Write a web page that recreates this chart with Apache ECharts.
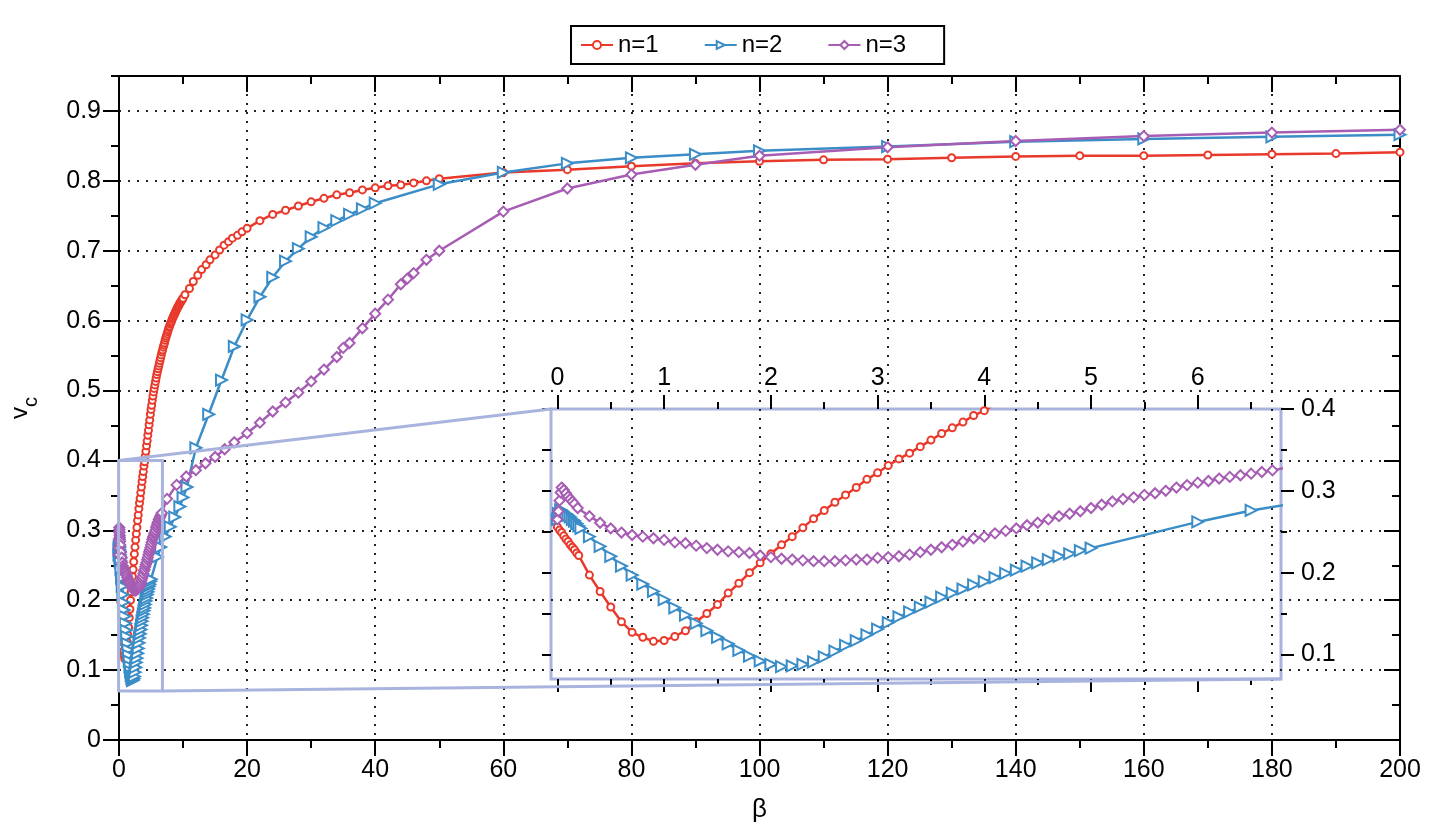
<!DOCTYPE html>
<html>
<head>
<meta charset="utf-8">
<script src="https://cdn.jsdelivr.net/npm/echarts@6/dist/echarts.min.js"></script>
<style>
  html, body { margin: 0; padding: 0; background: #fff; }
  #chart { width: 1438px; height: 836px; }
</style>
</head>
<body>
<div id="chart"></div>
<script>
(function () {
  'use strict';

  // 数据: [β, v_c]
  const n1 = [
    [0, 0.256], [0.02, 0.252], [0.04, 0.249], [0.06, 0.245], [0.08, 0.241], [0.1, 0.238], [0.12, 0.234], [0.14, 0.231],
    [0.16, 0.228], [0.18, 0.224], [0.2, 0.221], [0.3, 0.197], [0.4, 0.177], [0.5, 0.158], [0.6, 0.140], [0.7, 0.127],
    [0.8, 0.121], [0.9, 0.116], [1.0, 0.117], [1.1, 0.122], [1.2, 0.129], [1.3, 0.140], [1.4, 0.150], [1.5, 0.161],
    [1.6, 0.175], [1.7, 0.187], [1.8, 0.200], [1.9, 0.212], [2.0, 0.223], [2.1, 0.234], [2.2, 0.244], [2.3, 0.255],
    [2.4, 0.266], [2.5, 0.276], [2.6, 0.286], [2.7, 0.295], [2.8, 0.304], [2.9, 0.314], [3.0, 0.322], [3.1, 0.331],
    [3.2, 0.339], [3.3, 0.346], [3.4, 0.354], [3.5, 0.362], [3.6, 0.370], [3.7, 0.377], [3.8, 0.384], [3.9, 0.392],
    [4.0, 0.398], [4.1, 0.406], [4.2, 0.413], [4.3, 0.421], [4.4, 0.428], [4.5, 0.436], [4.6, 0.443], [4.7, 0.451],
    [4.8, 0.458], [4.9, 0.466], [5.0, 0.473], [5.1, 0.479], [5.2, 0.486], [5.3, 0.492], [5.4, 0.498], [5.5, 0.503],
    [5.6, 0.508], [5.7, 0.513], [5.8, 0.518], [5.9, 0.523], [6.0, 0.527], [6.1, 0.531], [6.2, 0.535], [6.3, 0.539],
    [6.4, 0.543], [6.5, 0.547], [6.6, 0.551], [6.7, 0.555], [6.8, 0.558], [6.9, 0.562], [7.0, 0.565], [7.1, 0.568],
    [7.2, 0.572], [7.3, 0.575], [7.4, 0.578], [7.5, 0.581], [7.6, 0.584], [7.7, 0.587], [7.8, 0.590], [7.9, 0.592],
    [8.0, 0.595], [8.1, 0.597], [8.2, 0.599], [8.3, 0.602], [8.4, 0.604], [8.5, 0.606], [8.6, 0.608], [8.7, 0.610],
    [8.8, 0.612], [8.9, 0.614], [9.0, 0.616], [9.1, 0.618], [9.2, 0.620], [9.3, 0.621], [9.4, 0.623], [9.5, 0.625],
    [9.6, 0.626], [9.7, 0.628], [9.8, 0.629], [9.9, 0.631], [10.0, 0.632],
    [10.3, 0.637], [11.0, 0.646], [11.6, 0.656], [12.3, 0.665], [12.9, 0.673], [13.6, 0.680], [14.2, 0.687],
    [15.0, 0.694], [15.7, 0.701], [16.4, 0.708], [17.1, 0.713], [17.7, 0.718], [18.5, 0.722], [19.2, 0.727], [20, 0.732],
    [22, 0.743], [24, 0.752], [26, 0.758], [28, 0.764], [30, 0.770], [32, 0.775], [34, 0.780], [36, 0.783],
    [38, 0.787], [40, 0.790], [42, 0.793], [44, 0.794], [46, 0.797], [48, 0.800], [50, 0.803], [60, 0.812],
    [70, 0.816], [80, 0.821], [90, 0.825], [100, 0.828], [110, 0.830], [120, 0.831], [130, 0.833], [140, 0.835],
    [150, 0.836], [160, 0.836], [170, 0.837], [180, 0.838], [190, 0.839], [200, 0.841]
  ];

  const n2 = [
    [0, 0.265], [0.01, 0.272], [0.03, 0.277], [0.05, 0.275], [0.08, 0.272], [0.1, 0.270], [0.12, 0.268], [0.14, 0.265],
    [0.16, 0.263], [0.18, 0.260], [0.2, 0.257], [0.22, 0.254], [0.3, 0.244], [0.4, 0.232], [0.5, 0.220], [0.6, 0.208],
    [0.7, 0.197], [0.8, 0.186], [0.9, 0.177], [1.0, 0.167], [1.1, 0.157], [1.2, 0.148], [1.3, 0.138], [1.4, 0.129],
    [1.5, 0.121], [1.6, 0.113], [1.7, 0.105], [1.8, 0.098], [1.9, 0.092], [2.0, 0.088], [2.1, 0.085], [2.2, 0.086],
    [2.3, 0.088], [2.4, 0.091], [2.5, 0.097], [2.6, 0.104], [2.7, 0.111], [2.8, 0.117], [2.9, 0.124], [3.0, 0.131],
    [3.1, 0.139], [3.2, 0.146], [3.3, 0.152], [3.4, 0.158], [3.5, 0.164], [3.6, 0.170], [3.7, 0.175], [3.8, 0.180],
    [3.9, 0.185], [4.0, 0.189], [4.1, 0.194], [4.2, 0.199], [4.3, 0.203], [4.4, 0.208], [4.5, 0.212], [4.6, 0.216],
    [4.7, 0.220], [4.8, 0.223], [4.9, 0.227], [5.0, 0.230], [6.0, 0.262], [6.5, 0.276], [7.2, 0.291], [8.0, 0.305],
    [8.7, 0.319], [9.5, 0.334], [10.0, 0.347], [10.6, 0.362], [12, 0.418], [14, 0.466], [16, 0.515], [18, 0.563],
    [20, 0.601], [22, 0.634], [24, 0.662], [26, 0.685], [28, 0.703], [30, 0.720], [32, 0.733], [34, 0.743],
    [36, 0.752], [38, 0.760], [40, 0.768], [50, 0.795], [60, 0.812], [70, 0.825], [80, 0.833], [90, 0.838],
    [100, 0.843], [120, 0.849], [140, 0.856], [160, 0.860], [180, 0.863], [200, 0.866]
  ];

  const n3 = [
    [0, 0.265], [0.01, 0.275], [0.02, 0.288], [0.03, 0.298], [0.04, 0.304], [0.06, 0.301], [0.08, 0.297], [0.1, 0.293],
    [0.12, 0.290], [0.14, 0.287], [0.16, 0.284], [0.19, 0.279], [0.3, 0.269], [0.4, 0.261], [0.5, 0.254], [0.6, 0.249],
    [0.7, 0.246], [0.8, 0.244], [0.9, 0.242], [1.0, 0.240], [1.1, 0.237], [1.2, 0.236], [1.3, 0.233], [1.4, 0.230],
    [1.5, 0.228], [1.6, 0.226], [1.7, 0.225], [1.8, 0.224], [1.9, 0.221], [2.0, 0.219], [2.1, 0.217], [2.2, 0.216],
    [2.3, 0.215], [2.4, 0.214], [2.5, 0.214], [2.6, 0.214], [2.7, 0.215], [2.8, 0.216], [2.9, 0.216], [3.0, 0.218],
    [3.1, 0.219], [3.2, 0.220], [3.3, 0.222], [3.4, 0.225], [3.5, 0.228], [3.6, 0.231], [3.7, 0.234], [3.8, 0.238],
    [3.9, 0.242], [4.0, 0.244], [4.1, 0.248], [4.2, 0.251], [4.3, 0.254], [4.4, 0.258], [4.5, 0.261], [4.6, 0.265],
    [4.7, 0.269], [4.8, 0.272], [4.9, 0.275], [5.0, 0.279], [5.1, 0.283], [5.2, 0.287], [5.3, 0.290], [5.4, 0.292],
    [5.5, 0.295], [5.6, 0.297], [5.7, 0.300], [5.8, 0.304], [5.9, 0.307], [6.0, 0.310], [6.1, 0.312], [6.2, 0.315],
    [6.3, 0.317], [6.4, 0.319], [6.5, 0.321], [6.6, 0.323], [6.7, 0.325], [7.5, 0.345], [9, 0.365], [10.5, 0.377],
    [12, 0.386], [13.5, 0.396], [15, 0.405], [16.5, 0.416], [18, 0.426], [20, 0.439], [22, 0.454], [24, 0.470],
    [26, 0.483], [28, 0.497], [30, 0.513], [32, 0.530], [34, 0.548], [35, 0.561], [36, 0.568], [38, 0.589],
    [40, 0.610], [42, 0.630], [44, 0.652], [45, 0.660], [46, 0.668], [48, 0.687], [50, 0.700], [60, 0.756],
    [70, 0.789], [80, 0.809], [90, 0.823], [100, 0.836], [120, 0.848], [140, 0.857], [160, 0.864], [180, 0.869],
    [200, 0.873]
  ];

  const seriesNames = ['n=1', 'n=2', 'n=3'];

  // 刻度
  const mainYTicks = [0, 0.1, 0.2, 0.3, 0.4, 0.5, 0.6, 0.7, 0.8, 0.9];
  const mainYMinor = [0.05, 0.15, 0.25, 0.35, 0.45, 0.55, 0.65, 0.75, 0.85, 0.95];
  const insetXTicks = [0, 1, 2, 3, 4, 5, 6];
  const insetXMinor = [0.5, 1.5, 2.5, 3.5, 4.5, 5.5, 6.5];
  const insetYTicks = [0.1, 0.2, 0.3, 0.4];
  const insetYMinor = [0.15, 0.25, 0.35];
  const insetYLeft = [0.1, 0.15, 0.2, 0.25, 0.3, 0.35, 0.4];
  const insetXRange = [-0.06, 6.78];
  const insetYRange = [0.07, 0.4];

  const FONT = 'Liberation Sans, Arial, Helvetica, sans-serif';
  const RED = '#e8392b', BLUE = '#3b8dc7', PURPLE = '#a65db3';
  const FRAME = '#a9b4de';

  const chart = echarts.init(document.getElementById('chart'), null, { renderer: 'canvas' });

  const dotted = { color: '#222', width: 2, type: [2, 7] };
  const black = { color: '#000', width: 2 };

  function tickAxis(extra) {
    return Object.assign({
      type: 'value',
      axisLine: { show: false, onZero: false },
      axisLabel: { show: false },
      splitLine: { show: false },
      axisTick: { show: true, lineStyle: black }
    }, extra);
  }

  const xAxis = [
    { // 主图底部
      type: 'value', gridIndex: 0, position: 'bottom', min: 0, max: 200, interval: 20,
      axisLine: { onZero: false, lineStyle: black },
      axisTick: { length: 16, lineStyle: black },
      minorTick: { show: true, splitNumber: 2, length: 8, lineStyle: black },
      axisLabel: { fontSize: 25, color: '#000', margin: 18, fontFamily: FONT },
      splitLine: { show: true, lineStyle: dotted },
      name: 'β', nameLocation: 'middle', nameGap: 57,
      nameTextStyle: { fontSize: 26, color: '#000', fontFamily: FONT }
    },
    { // 主图顶部
      type: 'value', gridIndex: 0, position: 'top', min: 0, max: 200, interval: 20,
      axisLine: { onZero: false, lineStyle: black },
      axisTick: { inside: true, length: 16, lineStyle: black },
      minorTick: { show: true, splitNumber: 2, length: 8, lineStyle: black },
      axisLabel: { show: false },
      splitLine: { show: false }
    },
    tickAxis({ // 插图顶部
      gridIndex: 1, position: 'top', min: insetXRange[0], max: insetXRange[1],
      axisTick: { customValues: insetXTicks, length: 14, lineStyle: black },
      axisLabel: { show: true, customValues: insetXTicks, fontSize: 25, color: '#000', margin: 18, fontFamily: FONT }
    }),
    tickAxis({ gridIndex: 1, position: 'top', min: insetXRange[0], max: insetXRange[1],
      axisTick: { customValues: insetXMinor, length: 7, lineStyle: black } }),
    tickAxis({ gridIndex: 1, position: 'bottom', min: insetXRange[0], max: insetXRange[1],
      axisTick: { customValues: insetXTicks, length: 13, lineStyle: black } }),
    tickAxis({ gridIndex: 1, position: 'bottom', min: insetXRange[0], max: insetXRange[1],
      axisTick: { customValues: insetXMinor, length: 6, lineStyle: black } })
  ];

  const yAxis = [
    { // 主图左侧
      type: 'value', gridIndex: 0, position: 'left', min: 0, max: 0.95, interval: 0.1,
      axisLine: { onZero: false, lineStyle: black },
      axisTick: { customValues: mainYTicks, length: 16, lineStyle: black },
      axisLabel: { customValues: mainYTicks, fontSize: 25, color: '#000', margin: 18, fontFamily: FONT },
      splitLine: { show: true, lineStyle: dotted },
      name: '{v|v}{c|c}', nameLocation: 'middle', nameGap: 78, nameRotate: 90,
      nameTextStyle: {
        color: '#000', fontFamily: FONT,
        rich: {
          v: { fontSize: 24, fontFamily: FONT, color: '#000', verticalAlign: 'bottom', padding: [0, 0, 9, 0] },
          c: { fontSize: 20, fontFamily: FONT, color: '#000', verticalAlign: 'bottom' }
        }
      }
    },
    tickAxis({ gridIndex: 0, position: 'left', min: 0, max: 0.95,
      axisTick: { customValues: mainYMinor, length: 8, lineStyle: black } }),
    { // 主图右侧
      type: 'value', gridIndex: 0, position: 'right', min: 0, max: 0.95, interval: 0.1,
      axisLine: { onZero: false, lineStyle: black },
      axisTick: { inside: true, customValues: mainYTicks, length: 16, lineStyle: black },
      axisLabel: { show: false },
      splitLine: { show: false }
    },
    tickAxis({ gridIndex: 0, position: 'right', min: 0, max: 0.95,
      axisTick: { inside: true, customValues: mainYMinor, length: 8, lineStyle: black } }),
    tickAxis({ // 插图右侧
      gridIndex: 1, position: 'right', min: insetYRange[0], max: insetYRange[1],
      axisTick: { customValues: insetYTicks, length: 13, lineStyle: black },
      axisLabel: { show: true, customValues: insetYTicks, fontSize: 25, color: '#000', margin: 20, fontFamily: FONT }
    }),
    tickAxis({ gridIndex: 1, position: 'right', min: insetYRange[0], max: insetYRange[1],
      axisTick: { customValues: insetYMinor, length: 6, lineStyle: black } }),
    tickAxis({ gridIndex: 1, position: 'left', min: insetYRange[0], max: insetYRange[1],
      axisTick: { customValues: insetYLeft, length: 9, lineStyle: black } })
  ];

  const styles = [
    { color: RED, symbol: 'circle', symbolSize: 7, symbolRotate: 0 },
    { color: BLUE, symbol: 'triangle', symbolSize: 11, symbolRotate: -90 },
    { color: PURPLE, symbol: 'diamond', symbolSize: 10, symbolRotate: 0 }
  ];
  const datasets = [n1, n2, n3];

  function makeSeries(i, xi, yi) {
    const s = styles[i];
    return {
      type: 'line', name: seriesNames[i], data: datasets[i],
      xAxisIndex: xi, yAxisIndex: yi, clip: true,
      color: s.color, symbol: s.symbol, symbolSize: s.symbolSize, symbolRotate: s.symbolRotate,
      showAllSymbol: true,
      lineStyle: { color: s.color, width: 2.5 },
      itemStyle: { color: '#fff', borderColor: s.color, borderWidth: 2 },
      emphasis: { disabled: true }
    };
  }

  const series = [];
  for (let i = 0; i < 3; i++) series.push(makeSeries(i, 0, 0));
  for (let i = 0; i < 3; i++) series.push(makeSeries(i, 2, 4));

  chart.setOption({
    animation: false,
    backgroundColor: '#fff',
    textStyle: { fontFamily: FONT },
    legend: {
      data: seriesNames, top: 26, left: 571,
      itemWidth: 32, itemHeight: 10, itemGap: 45,
      padding: [7, 38, 7, 9],
      borderColor: '#000', borderWidth: 2,
      textStyle: { fontSize: 24, color: '#000', fontFamily: FONT }
    },
    grid: [
      { left: 119, right: 38, top: 76, bottom: 96 },
      { left: 551, top: 409, width: 730, height: 270, show: true,
        borderColor: FRAME, borderWidth: 3, backgroundColor: 'transparent' }
    ],
    xAxis: xAxis,
    yAxis: yAxis,
    series: series
  });

  // 放大框与连线
  function drawInsetMarks() {
    const mainPt = pt => chart.convertToPixel({ xAxisIndex: 0, yAxisIndex: 0 }, pt);
    const insetPt = pt => chart.convertToPixel({ xAxisIndex: 2, yAxisIndex: 4 }, pt);
    const bl = mainPt([insetXRange[0], insetYRange[0]]);
    const tr = mainPt([insetXRange[1], insetYRange[1]]);
    const iTL = insetPt([insetXRange[0], insetYRange[1]]);
    const iBR = insetPt([insetXRange[1], insetYRange[0]]);
    const lineStyle = { stroke: FRAME, lineWidth: 3 };
    chart.setOption({
      graphic: [
        { type: 'rect', z: 50, shape: { x: bl[0], y: tr[1], width: tr[0] - bl[0], height: bl[1] - tr[1] },
          style: { fill: 'transparent', stroke: FRAME, lineWidth: 3 } },
        { type: 'line', z: 50, shape: { x1: bl[0], y1: tr[1], x2: iTL[0], y2: iTL[1] }, style: lineStyle },
        { type: 'line', z: 50, shape: { x1: tr[0], y1: bl[1], x2: iBR[0], y2: iBR[1] }, style: lineStyle }
      ]
    });
  }
  drawInsetMarks();

  window.addEventListener('resize', function () { chart.resize(); drawInsetMarks(); });
})();
</script>
</body>
</html>
